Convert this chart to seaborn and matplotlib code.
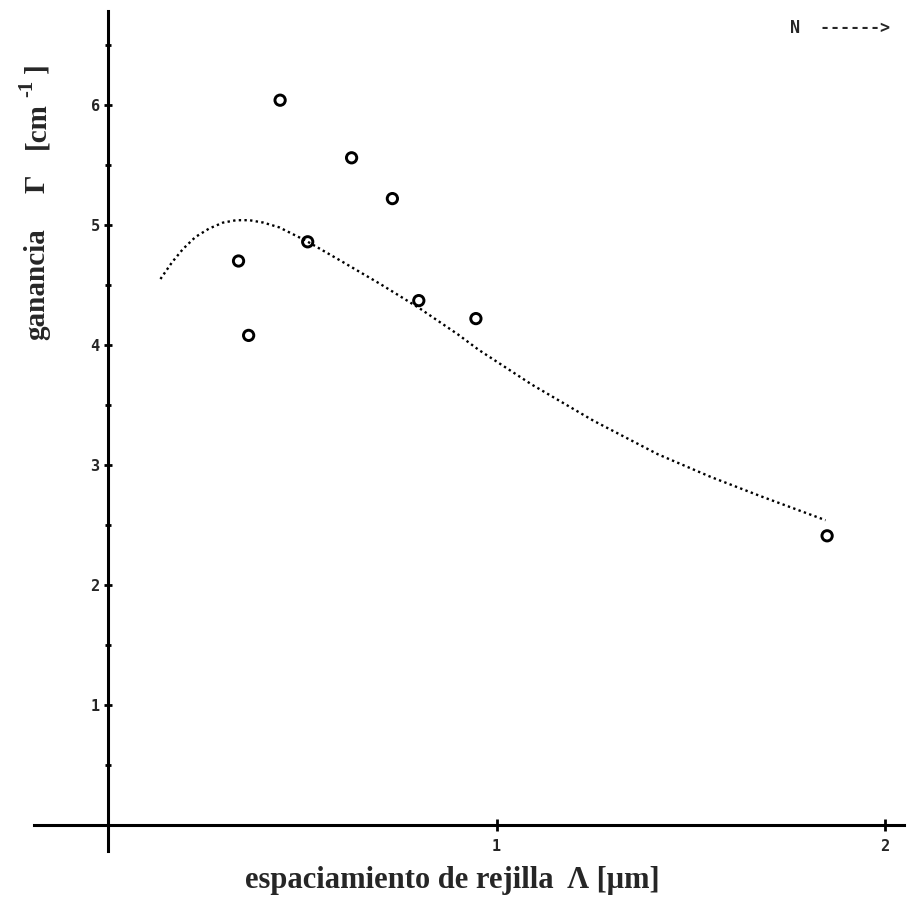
import numpy as np
import pandas as pd
import matplotlib
matplotlib.use("Agg")
import matplotlib.pyplot as plt
from matplotlib.ticker import MultipleLocator, FixedLocator
import seaborn as sns

# Measured gain versus grating spacing
spacing_um = [0.443, 0.627, 0.732, 0.514, 0.336, 0.800, 0.947, 0.362, 1.851]
gain_cm = [6.04, 5.56, 5.22, 4.86, 4.70, 4.37, 4.22, 4.08, 2.41]

# Model curve
curve_x = [0.135, 0.165, 0.193, 0.225, 0.260, 0.296, 0.330, 0.364, 0.400,
           0.441, 0.509, 0.600, 0.700, 0.800, 0.900, 0.954, 1.091, 1.249,
           1.415, 1.552, 1.680, 1.847]
curve_y = [4.55, 4.69, 4.80, 4.90, 4.97, 5.02, 5.04, 5.04, 5.02,
           4.98, 4.87, 4.70, 4.51, 4.31, 4.09, 3.96, 3.67, 3.37,
           3.09, 2.90, 2.74, 2.54]

y_major = [1, 2, 3, 4, 5, 6]
x_major = [1, 2]

sns.set_theme(style="white")

W, H = 921, 913
fig = plt.figure(figsize=(W / 100, H / 100), dpi=100)

# axes placement (pixel coordinates of the data window)
xlim = (-0.19, 2.05)
ylim = (-0.22, 6.78)
x0_px, x_scale = 108.0, 388.5
y0_px, y_scale = 825.0, 120.0
left = x0_px + xlim[0] * x_scale
right = x0_px + xlim[1] * x_scale
top = y0_px - ylim[1] * y_scale
bottom = y0_px - ylim[0] * y_scale
ax = fig.add_axes([left / W, 1 - bottom / H, (right - left) / W, (bottom - top) / H])
ax.set_facecolor("white")
ax.set_xlim(*xlim)
ax.set_ylim(*ylim)

pts = pd.DataFrame({"x": spacing_um, "y": gain_cm})
fit = pd.DataFrame({"x": curve_x, "y": curve_y})

sns.lineplot(data=fit, x="x", y="y", ax=ax, color="black", linewidth=1.7,
             linestyle=(0, (1, 1.4)), sort=True, estimator=None)
sns.scatterplot(data=pts, x="x", y="y", ax=ax, marker="o", s=55,
                facecolor="none", edgecolor="black", linewidth=2.1, zorder=5)

# axes crossing at the origin
for side in ["top", "right"]:
    ax.spines[side].set_visible(False)
ax.spines["left"].set_position(("data", 0))
ax.spines["bottom"].set_position(("data", 0))
for side in ["left", "bottom"]:
    ax.spines[side].set_color("black")
    ax.spines[side].set_linewidth(2.2)

ax.xaxis.set_major_locator(FixedLocator(x_major))
ax.yaxis.set_major_locator(FixedLocator(y_major))
ax.yaxis.set_minor_locator(MultipleLocator(0.5))
ax.set_xticklabels([str(v) for v in x_major])
ax.set_yticklabels([str(v) for v in y_major])
ax.tick_params(axis="both", which="both", direction="inout", color="black",
               width=2.0, labelsize=11, bottom=True, left=True)
ax.tick_params(axis="y", which="major", length=6, pad=3)
ax.tick_params(axis="y", which="minor", length=5)
ax.tick_params(axis="x", which="major", length=8, pad=6)
for lab in ax.get_xticklabels() + ax.get_yticklabels():
    lab.set_fontweight("bold")
    lab.set_family("DejaVu Sans Mono")
ax.set_xlabel("")
ax.set_ylabel("")
ax.grid(False)

serif = ["Liberation Serif", "DejaVu Serif"]
fig.text(452 / W, 1 - 880 / H, "espaciamiento de rejilla  Λ [μm]",
         ha="center", va="center", fontsize=22, fontweight="bold", family=serif)

# vertical axis title, set piece by piece
ylab_x = 37 / W
fig.text(ylab_x, 1 - 284 / H, "ganancia", ha="center", va="center", rotation=90,
         fontsize=21, fontweight="bold", family=serif)
fig.text(ylab_x, 1 - 184 / H, "Γ", ha="center", va="center", rotation=90,
         fontsize=21, fontweight="bold", family=serif)
fig.text(ylab_x, 1 - 126 / H, "[cm", ha="center", va="center", rotation=90,
         fontsize=21, fontweight="bold", family=serif)
fig.text(27 / W, 1 - 88 / H, "-1", ha="center", va="center", rotation=90,
         fontsize=15, fontweight="bold", family=serif)
fig.text(ylab_x, 1 - 68 / H, "]", ha="center", va="center", rotation=90,
         fontsize=21, fontweight="bold", family=serif)

fig.text(790 / W, 1 - 28 / H, "N  ------>", ha="left", va="center",
         fontsize=12, fontweight="bold", family="DejaVu Sans Mono")

fig.savefig("out.png", dpi=100, facecolor="white")
